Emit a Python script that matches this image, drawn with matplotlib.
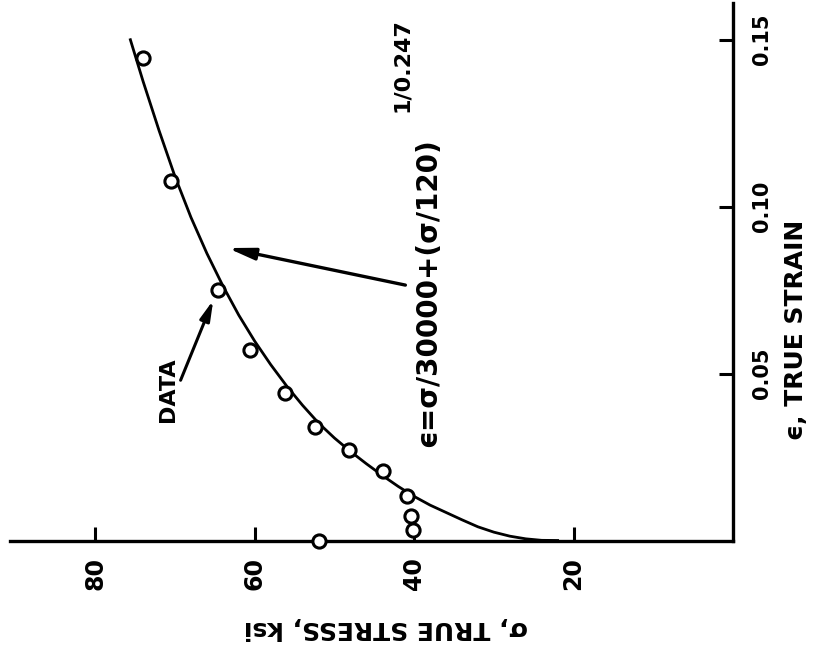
import matplotlib
matplotlib.use("Agg")
import matplotlib.pyplot as plt

plt.rcParams["font.family"] = ["DejaVu Sans"]
plt.rcParams["font.weight"] = "bold"

# measured points (stress in ksi, true strain)
data_stress = [74.0, 70.5, 64.6, 60.6, 56.2, 52.4, 48.2, 43.9, 40.9, 40.4, 40.1, 51.9]
data_strain = [0.1445, 0.1077, 0.0750, 0.0570, 0.0442, 0.0340, 0.0271, 0.0208,
               0.0133, 0.0073, 0.0031, 0.0]

# fitted curve
curve_stress = [75.6, 74, 72, 70, 68, 66, 64, 62, 60, 58, 56, 54, 52, 50,
                48, 46, 44, 42, 40, 38, 36, 34, 32, 30, 28, 26, 24, 22]
curve_strain = [0.1500, 0.1375, 0.1228, 0.1090, 0.0968, 0.0860, 0.0763, 0.0675,
                0.0597, 0.0527, 0.0463, 0.0405, 0.0352, 0.0307, 0.0267, 0.0230,
                0.0195, 0.0162, 0.0132, 0.0106, 0.0084, 0.0062, 0.0041, 0.0025,
                0.0013, 0.0005, 0.00005, 0.0]

stress_ticks = [80, 60, 40, 20]
strain_ticks = [0.05, 0.10, 0.15]
strain_labels = ["0.05", "0.10", "0.15"]

W, H = 813, 666
fig = plt.figure(figsize=(W / 100, H / 100), dpi=100)
ax = fig.add_axes([10 / W, 1 - 540.5 / H, 723 / W, 537.5 / H])

ax.plot(curve_stress, curve_strain, color="black", lw=2.0, zorder=2,
        solid_joinstyle="round")
ax.plot(data_stress, data_strain, "o", ms=9.5, mfc="white", mec="black",
        mew=2.2, zorder=3, clip_on=False)

ax.set_xlim(90.7, 0)
ax.set_ylim(0, 0.161)

for s in ["left", "top"]:
    ax.spines[s].set_visible(False)
for s in ["bottom", "right"]:
    ax.spines[s].set_linewidth(2.4)

ax.set_xticks(stress_ticks)
ax.set_xticklabels([str(t) for t in stress_ticks], rotation=90)
ax.yaxis.tick_right()
ax.set_yticks(strain_ticks)
ax.set_yticklabels(strain_labels, rotation=90, va="center")
ax.tick_params(axis="both", direction="in", length=10, width=2.2, pad=12)
ax.tick_params(axis="x", labelsize=17)
ax.tick_params(axis="y", labelsize=15, pad=14)

# axis titles (the whole figure is turned a quarter turn)
fig.text(386 / W, 1 - 628 / H, "σ, TRUE STRESS, ksi", rotation=180,
         ha="center", va="center", fontsize=18)
fig.text(796 / W, 1 - 330 / H, "ϵ, TRUE STRAIN", rotation=90,
         ha="center", va="center", fontsize=18)

# equation and its arrow
fig.text(428 / W, 1 - 447 / H, "ϵ=σ/30000+(σ/120)", rotation=90,
         ha="center", va="bottom", fontsize=20)
fig.text(402 / W, 1 - 112 / H, "1/0.247", rotation=90,
         ha="center", va="bottom", fontsize=16)
ax.annotate("", xy=(63.4, 0.0876), xytext=(41.1, 0.0765),
            arrowprops=dict(arrowstyle="-|>,head_length=1.6,head_width=0.35",
                            lw=2.4, color="black", shrinkA=0, shrinkB=0))

# data label and its arrow
ax.annotate("", xy=(65.2, 0.072), xytext=(69.3, 0.048),
            arrowprops=dict(arrowstyle="-|>,head_length=1.2,head_width=0.3",
                            lw=2.2, color="black", shrinkA=0, shrinkB=0))
fig.text(168 / W, 1 - 390 / H, "DATA", rotation=90, ha="center", va="center",
         fontsize=16)

fig.savefig("out.png", dpi=100)
